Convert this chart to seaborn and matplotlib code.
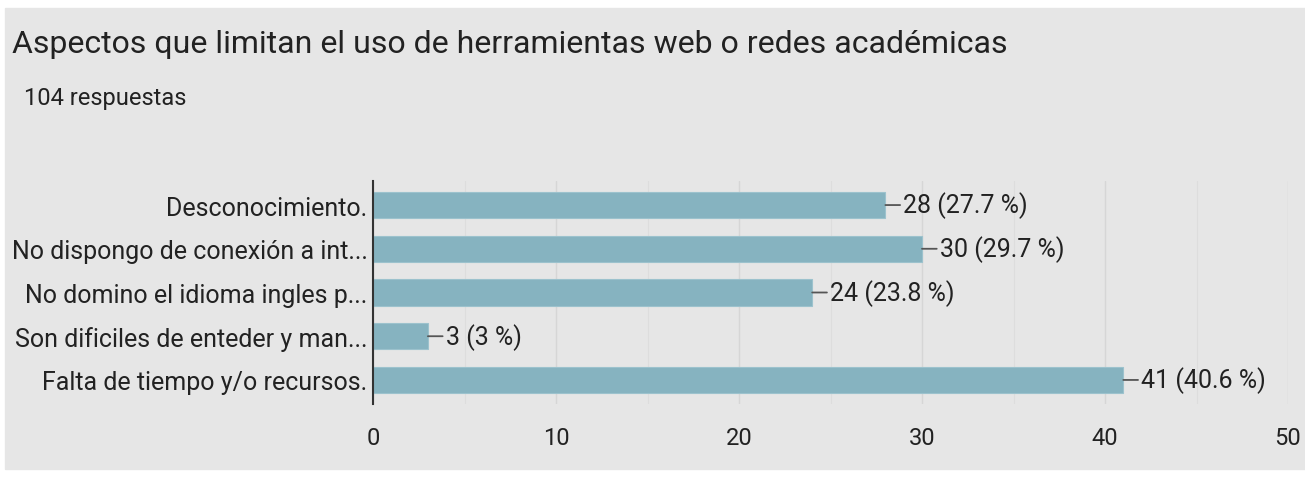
import matplotlib
matplotlib.use("Agg")
import matplotlib.pyplot as plt
import seaborn as sns
import pandas as pd

categories = [
    "Desconocimiento.",
    "No dispongo de conexión a int...",
    "No domino el idioma ingles p...",
    "Son dificiles de enteder y man...",
    "Falta de tiempo y/o recursos.",
]
counts = [28, 30, 24, 3, 41]
percents = ["27.7", "29.7", "23.8", "3", "40.6"]
x_ticks = [0, 10, 20, 30, 40, 50]

sns.set_theme(style="white")
plt.rcParams["font.family"] = ["Roboto", "DejaVu Sans"]

bg = "#e6e6e6"
txt = "#222222"
W, H = 1305, 481
fig = plt.figure(figsize=(W / 100, H / 100), dpi=100)
fig.patch.set_facecolor("white")
# grey card behind everything
fig.add_artist(plt.Rectangle((5 / W, 11 / H), 1300 / W, 461 / H,
                             transform=fig.transFigure, color=bg, zorder=-10))

ax = fig.add_axes([373 / W, 1 - 405 / H, (1288 - 373) / W, (405 - 182) / H])
ax.set_facecolor(bg)

df = pd.DataFrame({"cat": categories, "n": counts})
sns.barplot(data=df, x="n", y="cat", orient="h", color="#86b3c0", saturation=1,
            width=0.6, edgecolor="#9cc2cd", linewidth=0.8, ax=ax, zorder=3)

ax.set_xlim(0, 50)
ax.set_ylim(4.55, -0.55)
ax.set_xticks(x_ticks)
ax.set_xticks(range(5, 50, 10), minor=True)
ax.grid(axis="x", which="major", color="#d6d6d6", lw=1, zorder=0)
ax.grid(axis="x", which="minor", color="#dddddd", lw=0.8, zorder=0)
for s in ["top", "right", "bottom"]:
    ax.spines[s].set_visible(False)
ax.spines["left"].set_color("#333333")
ax.spines["left"].set_linewidth(1.5)
ax.spines["left"].set_zorder(5)
ax.set_xlabel("")
ax.set_ylabel("")
ax.tick_params(axis="x", length=0, pad=16, labelsize=17, labelcolor=txt)
ax.tick_params(axis="y", length=0, pad=4, labelsize=18, labelcolor=txt)

for i, (n, p) in enumerate(zip(counts, percents)):
    ax.annotate(f"{n} ({p} %)", xy=(n, i), xytext=(18, 0), textcoords="offset pixels",
                va="center", ha="left", fontsize=18, color=txt,
                arrowprops=dict(arrowstyle="-", color="#555555", lw=1.3,
                                shrinkA=0, shrinkB=0, relpos=(0, 0.5)))

fig.text(12 / W, 1 - 45 / H, "Aspectos que limitan el uso de herramientas web o redes académicas",
         fontsize=23, color=txt, va="center", ha="left")
fig.text(24 / W, 1 - 99 / H, "104 respuestas", fontsize=17, color=txt,
         va="center", ha="left")

fig.savefig("out.png", dpi=100, facecolor="white")
